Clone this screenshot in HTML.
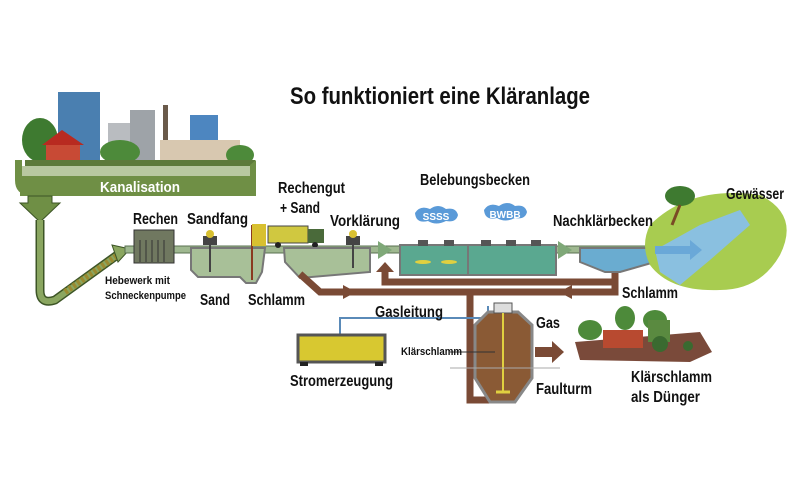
<!DOCTYPE html>
<html><head><meta charset="utf-8"><style>
html,body{margin:0;padding:0;background:#fff;}
svg text{font-family:"Liberation Sans Narrow","Liberation Sans",sans-serif;font-weight:bold;fill:#111;}
</style></head><body>
<svg width="800" height="491" viewBox="0 0 800 491" xmlns="http://www.w3.org/2000/svg">
<rect width="800" height="491" fill="#fff"/>
<text x="290" y="104" font-size="24" textLength="300" lengthAdjust="spacingAndGlyphs">So funktioniert eine Kläranlage</text>

<!-- city -->
<rect x="58" y="92" width="42" height="70" fill="#4a7fb0"/>
<rect x="108" y="123" width="45" height="42" fill="#b9bcc0"/>
<rect x="130" y="110" width="25" height="50" fill="#9ea3a8"/>
<rect x="190" y="115" width="28" height="40" fill="#4d86c0"/>
<rect x="163" y="105" width="5" height="55" fill="#6a5a4a"/>
<rect x="160" y="140" width="80" height="25" fill="#d8c8b0"/>
<ellipse cx="40" cy="140" rx="18" ry="22" fill="#3e7a30"/>
<ellipse cx="120" cy="152" rx="20" ry="12" fill="#4d8a3a"/>
<ellipse cx="240" cy="155" rx="14" ry="10" fill="#4d8a3a"/>
<polygon points="42,145 62,130 84,145" fill="#b82a20"/>
<rect x="46" y="145" width="34" height="18" fill="#c84a35"/>
<rect x="25" y="160" width="230" height="8" fill="#5d7a3a"/>

<!-- Kanalisation -->
<path d="M15,160 L15,180 Q15,195 30,195 L240,195 Q256,195 256,180 L256,160 L250,165 L250,172 Q250,178 240,178 L30,178 Q22,178 22,170 L22,160 Z" fill="#6f8f45"/>
<rect x="22" y="166" width="228" height="12" fill="#b8c8a0"/>
<rect x="20" y="176" width="236" height="20" fill="#6f8f45"/>
<text x="100" y="192" font-size="15" textLength="80" lengthAdjust="spacingAndGlyphs" style="fill:#fff">Kanalisation</text>
<polygon points="28,196 52,196 52,203 60,203 40,222 20,203 28,203" fill="#6f8f45" stroke="#3d5526" stroke-width="1"/>
<path d="M40,220 L40,290 Q40,305 55,300 L120,253" fill="none" stroke="#3d5526" stroke-width="9"/>
<path d="M40,220 L40,290 Q40,305 55,300 L120,253" fill="none" stroke="#8aa660" stroke-width="6"/>
<path d="M65,292 L118,255" stroke="#9a8a30" stroke-width="6" stroke-dasharray="3 2"/>
<polygon points="112,245 130,249 118,262" fill="#8aa660" stroke="#3d5526"/>

<!-- main pipe -->
<rect x="125" y="246" width="535" height="7" fill="#9fb890" stroke="#5a7050" stroke-width="1"/>
<polygon points="378,241 392,250 378,259" fill="#7fa878"/>
<polygon points="558,241 572,250 558,259" fill="#7fa878"/>
<!-- Rechen -->
<rect x="134" y="230" width="40" height="33" fill="#707860" stroke="#333"/>
<g stroke="#333" stroke-width="1"><line x1="140" y1="240" x2="140" y2="262"/><line x1="146" y1="240" x2="146" y2="262"/><line x1="152" y1="240" x2="152" y2="262"/><line x1="158" y1="240" x2="158" y2="262"/><line x1="164" y1="240" x2="164" y2="262"/></g>
<!-- Sandfang -->
<path d="M191,248 L191,270 L198,277 L240,277 L246,283 L256,283 L262,272 L265,248 Z" fill="#a8c098" stroke="#777" stroke-width="2"/>
<rect x="203" y="236" width="14" height="9" fill="#444"/><circle cx="210" cy="234" r="4" fill="#d8c030"/>
<line x1="210" y1="245" x2="210" y2="272" stroke="#444" stroke-width="2"/>
<line x1="252" y1="225" x2="252" y2="280" stroke="#8a3a20" stroke-width="2"/>
<rect x="252" y="224" width="14" height="22" fill="#d8c030"/>
<!-- truck -->
<rect x="268" y="226" width="40" height="17" fill="#d0c840" stroke="#444"/>
<rect x="308" y="229" width="16" height="14" fill="#4a6a3a"/>
<circle cx="278" cy="245" r="3" fill="#222"/><circle cx="315" cy="245" r="3" fill="#222"/>
<!-- Vorklärung -->
<path d="M284,248 L285,262 L300,278 L370,272 L370,248 Z" fill="#a8c098" stroke="#777" stroke-width="2"/>
<rect x="346" y="236" width="14" height="9" fill="#444"/><circle cx="353" cy="234" r="4" fill="#d8c030"/>
<line x1="353" y1="245" x2="353" y2="268" stroke="#444" stroke-width="2"/>
<!-- sludge lines -->
<path d="M300,274 L320,292 L470,292 L470,400 L490,400" fill="none" stroke="#7a4a35" stroke-width="7"/>
<path d="M615,272 L615,292 L470,292" fill="none" stroke="#7a4a35" stroke-width="7"/>
<path d="M612,282 L385,282 L385,270" fill="none" stroke="#7a4a35" stroke-width="7"/>
<polygon points="376,272 385,262 394,272" fill="#7a4a35"/>
<polygon points="343,285 356,292 343,299" fill="#7a4a35"/>
<polygon points="572,285 559,292 572,299" fill="#7a4a35"/>
<!-- Belebung -->
<rect x="400" y="245" width="156" height="30" fill="#5aa890" stroke="#777" stroke-width="2"/>
<line x1="468" y1="245" x2="468" y2="275" stroke="#777" stroke-width="2"/>
<path d="M415,213 q5,-8 15,-4 q8,-6 16,0 q10,-2 12,6 q-2,8 -12,6 q-10,5 -18,0 q-12,3 -13,-8z" fill="#5a9ad8"/>
<text x="436" y="220" font-size="10" text-anchor="middle" style="fill:#fff">SSSS</text>
<path d="M484,210 q5,-8 15,-4 q8,-6 16,0 q10,-2 12,6 q-2,8 -12,6 q-10,5 -18,0 q-12,3 -13,-8z" fill="#5a9ad8"/>
<text x="505" y="218" font-size="10" text-anchor="middle" style="fill:#fff">BWBB</text>
<g fill="#555"><rect x="418" y="240" width="10" height="6"/><rect x="444" y="240" width="10" height="6"/><rect x="481" y="240" width="10" height="6"/><rect x="506" y="240" width="10" height="6"/><rect x="531" y="240" width="10" height="6"/></g>
<g fill="#e0d040"><ellipse cx="423" cy="262" rx="8" ry="2"/><ellipse cx="449" cy="262" rx="8" ry="2"/></g>
<!-- Nachklär -->
<path d="M580,248 L580,262 L605,272 L620,272 L655,262 L655,248 Z" fill="#6aacd0" stroke="#777" stroke-width="2"/>
<!-- river -->
<path d="M650,225 Q690,185 760,195 Q800,215 780,255 Q760,290 720,290 Q670,292 650,265 Q640,245 650,225Z" fill="#a8cc50"/>
<path d="M655,250 L700,225 L740,210 L750,225 L710,260 L680,285 L660,272Z" fill="#8ac0e0"/>
<polygon points="655,246 690,246 690,240 702,250 690,260 690,254 655,254" fill="#6aa8d8"/>
<ellipse cx="680" cy="196" rx="15" ry="10" fill="#3e7a30"/>
<line x1="680" y1="205" x2="672" y2="225" stroke="#7a4a25" stroke-width="3"/>
<!-- gas line -->
<path d="M340,337 L340,318 L488,318 L488,306" fill="none" stroke="#5a8ab8" stroke-width="2"/>
<rect x="298" y="335" width="87" height="27" fill="#d8c830" stroke="#555" stroke-width="3"/>
<rect x="300" y="362" width="8" height="4" fill="#222"/><rect x="375" y="362" width="8" height="4" fill="#222"/>
<!-- Faulturm -->
<polygon points="488,312 518,312 532,325 532,378 515,402 490,402 475,378 475,325" fill="#8a5a35" stroke="#888" stroke-width="3"/>
<rect x="494" y="303" width="18" height="10" fill="#ddd" stroke="#555"/>
<line x1="503" y1="313" x2="503" y2="392" stroke="#e0d040" stroke-width="2"/>
<line x1="496" y1="392" x2="510" y2="392" stroke="#e0d040" stroke-width="3"/>
<polygon points="535,347 552,347 552,341 564,352 552,363 552,357 535,357" fill="#7a4a35"/>
<line x1="450" y1="352" x2="495" y2="352" stroke="#333"/>
<line x1="450" y1="368" x2="560" y2="368" stroke="#aaa"/>
<!-- tractor scene -->
<path d="M575,342 L700,332 L712,352 L690,362 L580,360Z" fill="#7a4a3a"/>
<ellipse cx="590" cy="330" rx="12" ry="10" fill="#4d8a3a"/>
<ellipse cx="625" cy="318" rx="10" ry="12" fill="#4d8a3a"/>
<ellipse cx="655" cy="320" rx="12" ry="10" fill="#4d8a3a"/>
<rect x="603" y="330" width="40" height="18" fill="#b84a30"/>
<rect x="648" y="320" width="22" height="22" fill="#5a8a40"/>
<circle cx="660" cy="344" r="8" fill="#3a6a30"/><circle cx="688" cy="346" r="5" fill="#3a6a30"/>

<!-- labels -->
<g font-size="16" lengthAdjust="spacingAndGlyphs">
<text x="133" y="224" textLength="45" lengthAdjust="spacingAndGlyphs">Rechen</text>
<text x="187" y="224" textLength="61" lengthAdjust="spacingAndGlyphs">Sandfang</text>
<text x="278" y="193" textLength="67" lengthAdjust="spacingAndGlyphs">Rechengut</text>
<text x="280" y="213" textLength="40" lengthAdjust="spacingAndGlyphs">+ Sand</text>
<text x="330" y="226" textLength="70" lengthAdjust="spacingAndGlyphs">Vorklärung</text>
<text x="420" y="185" textLength="110" lengthAdjust="spacingAndGlyphs">Belebungsbecken</text>
<text x="553" y="226" textLength="100" lengthAdjust="spacingAndGlyphs">Nachklärbecken</text>
<text x="726" y="199" textLength="58" lengthAdjust="spacingAndGlyphs">Gewässer</text>
<text x="200" y="305" textLength="30" lengthAdjust="spacingAndGlyphs">Sand</text>
<text x="248" y="305" textLength="57" lengthAdjust="spacingAndGlyphs">Schlamm</text>
<text x="622" y="298" textLength="56" lengthAdjust="spacingAndGlyphs">Schlamm</text>
<text x="375" y="317" textLength="68" lengthAdjust="spacingAndGlyphs">Gasleitung</text>
<text x="290" y="386" textLength="103" lengthAdjust="spacingAndGlyphs">Stromerzeugung</text>
<text x="536" y="328" textLength="24" lengthAdjust="spacingAndGlyphs">Gas</text>
<text x="536" y="394" textLength="56" lengthAdjust="spacingAndGlyphs">Faulturm</text>
<text x="631" y="382" textLength="81" lengthAdjust="spacingAndGlyphs">Klärschlamm</text>
<text x="631" y="402" textLength="69" lengthAdjust="spacingAndGlyphs">als Dünger</text>
</g>
<g font-size="11">
<text x="105" y="284" textLength="65" lengthAdjust="spacingAndGlyphs">Hebewerk mit</text>
<text x="105" y="299" textLength="81" lengthAdjust="spacingAndGlyphs">Schneckenpumpe</text>
<text x="401" y="355" textLength="61" lengthAdjust="spacingAndGlyphs">Klärschlamm</text>
</g>
</svg>
</body></html>
